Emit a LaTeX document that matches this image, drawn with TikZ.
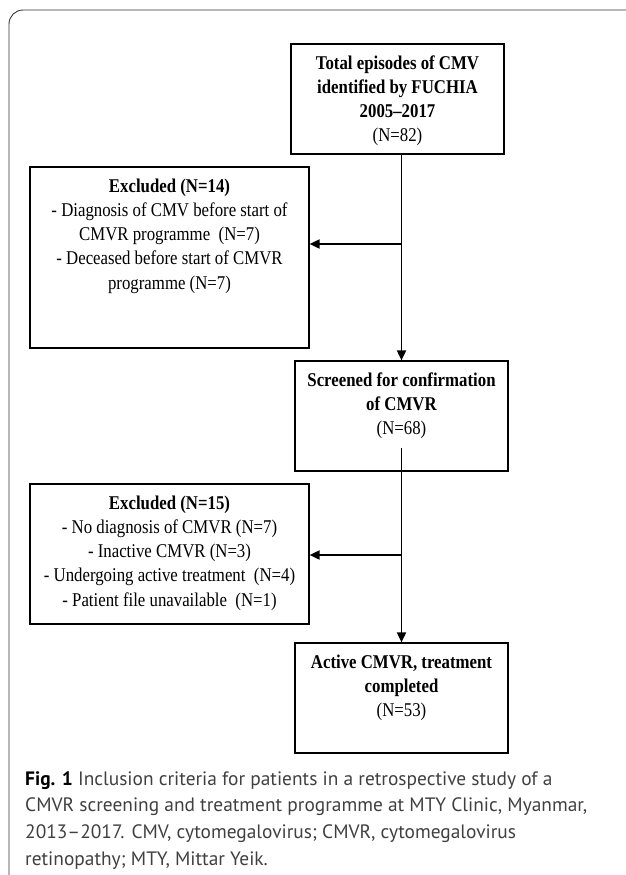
\documentclass[tikz,border=0pt]{standalone}
\usepackage{fontspec}
\usepackage{graphicx}
\setmainfont{Liberation Serif}
\setsansfont{PT Sans}
\usetikzlibrary{arrows.meta,positioning,calc}
% box text is set a little taller than wide
\newcommand{\talltext}[1]{\scalebox{1}[1.16]{\begin{tabular}{@{}c@{}}#1\end{tabular}}}

\begin{document}
\begin{tikzpicture}[x=1pt,y=-1pt,every node/.style={font=\fontsize{16.8}{20.9}\selectfont},
 b/.style={draw,line width=1.2pt,minimum width=213pt,minimum height=110pt,inner sep=0pt},
 t/.style={anchor=north,inner sep=0pt,yshift=-8.5pt},
 arr/.style={-{Triangle[length=10pt,width=9pt]},line width=1.8pt}]
\useasboundingbox (0,0) rectangle (625,875);
% frame of the figure
\draw[line width=0.9pt,black!80,rounded corners=14pt] (9,890) |- (640,10);
% boxes
\node[b] (tot) at (397.5,99) {};
\node[t] (tottxt) at (tot.north) {\talltext{\textbf{Total episodes of CMV}\\ \textbf{identified by FUCHIA}\\ \textbf{2005--2017}\\ (N=82)}};
\node[b,minimum width=279pt,minimum height=181pt] (ex1) at (169.5,257.5) {};
\node[t] (ex1txt) at (ex1.north) {\talltext{\textbf{Excluded (N=14)}\\ - Diagnosis of CMV before start of\\ CMVR programme~~(N=7)\\ - Deceased before start of CMVR\\ programme (N=7)}};
\node[b] (scr) at (401.5,416) {};
\node[t] (scrtxt) at (scr.north) {\talltext{\textbf{Screened for confirmation}\\ \textbf{of CMVR}\\ (N=68)}};
\node[b,minimum width=279pt,minimum height=140pt] (ex2) at (169.5,554) {};
\node[t] (ex2txt) at (ex2.north) {\talltext{\textbf{Excluded (N=15)}\\ - No diagnosis of CMVR (N=7)\\ - Inactive CMVR (N=3)\\ - Undergoing active treatment~~(N=4)\\ - Patient file unavailable~~(N=1)}};
\node[b] (act) at (401.5,698) {};
\node[t] (acttxt) at (act.north) {\talltext{\textbf{Active CMVR, treatment}\\ \textbf{completed}\\ (N=53)}};
% connectors
\coordinate (j1) at (tot.south -| scr.north);
\coordinate (s1) at ($(scr.south)+(0,-24)$);
\draw[arr] (j1) -- (scr.north);
\draw[arr] (s1) -- (act.north);
\draw[arr] (scr.north |- ex1.east) ++(0,-13.5) coordinate (k1) -- (k1 -| ex1.east);
\draw[arr] (act.north |- ex2.east) ++(0,1) coordinate (k2) -- (k2 -| ex2.east);
% caption
\node[anchor=north west,align=left,inner sep=0pt,text=black!75,
 font=\sffamily\fontsize{19.4}{26.7}\selectfont] (cap) at (25,771)
 {{\color{black}\bfseries Fig. 1} Inclusion criteria for patients in a retrospective study of a\\
 CMVR screening and treatment programme at MTY Clinic, Myanmar,\\
 2013--2017. CMV, cytomegalovirus; CMVR, cytomegalovirus\\
 retinopathy; MTY, Mittar Yeik.};
\end{tikzpicture}
\end{document}
